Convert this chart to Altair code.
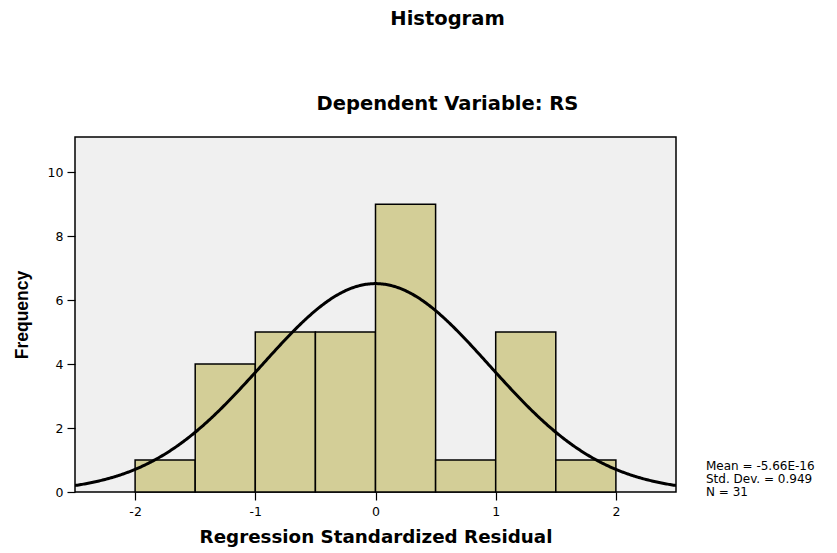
import altair as alt
import pandas as pd

# Histogram bins (bin start, bin end, frequency)
bin_start = [-2.0, -1.5, -1.0, -0.5, 0.0, 0.5, 1.0, 1.5]
bin_end = [-1.5, -1.0, -0.5, 0.0, 0.5, 1.0, 1.5, 2.0]
freq = [1, 4, 5, 5, 9, 1, 5, 1]

# Summary statistics shown on the chart
MEAN = -5.66e-16
SD = 0.949
N = 31
BIN_W = 0.5
stats_lines = ["Mean = -5.66E-16", "Std. Dev. = 0.949", "N = 31"]

x_ticks = [-2, -1, 0, 1, 2]
y_ticks = [0, 2, 4, 6, 8, 10]

FONT = "DejaVu Sans"

bars_df = pd.DataFrame({"start": bin_start, "end": bin_end, "freq": freq})

xscale = alt.Scale(domain=[-2.5, 2.5], nice=False, zero=False)
yscale = alt.Scale(domain=[0, 11.1], nice=False)

xaxis = alt.Axis(values=x_ticks, title="Regression Standardized Residual", grid=False,
                 domain=False, tickColor="black", tickSize=8, tickWidth=1.2,
                 labelExpr="'' + datum.value",
                 labelFont=FONT, labelFontSize=12.5, labelColor="black", labelPadding=5,
                 titleFont=FONT, titleFontSize=18.3, titleFontWeight="bold",
                 titleColor="black", titlePadding=11)
yaxis = alt.Axis(values=y_ticks, title="Frequency", grid=False, domain=False,
                 tickColor="black", tickSize=8, tickWidth=1.2,
                 labelExpr="'' + datum.value",
                 labelFont=FONT, labelFontSize=12.5, labelColor="black", labelPadding=4,
                 titleFont="Liberation Sans", titleFontSize=17.5, titleFontWeight="bold",
                 titleColor="black", titlePadding=16)

bars = alt.Chart(bars_df).mark_rect(
    fill="#d3ce97", stroke="black", strokeWidth=1.5
).encode(
    x=alt.X("start:Q", scale=xscale, axis=xaxis),
    x2="end:Q",
    y=alt.Y("freq:Q", scale=yscale, axis=yaxis),
    y2=alt.datum(0),
)

curve = alt.Chart(alt.sequence(-2.5, 2.5001, 0.01, as_="x")).transform_calculate(
    y=f"{N}*{BIN_W}/({SD}*sqrt(2*PI))*exp(-0.5*pow((datum.x-({MEAN}))/{SD},2))"
).mark_line(color="black", strokeWidth=3, clip=True).encode(
    x=alt.X("x:Q", scale=xscale),
    y=alt.Y("y:Q", scale=yscale),
)

stats_df = pd.DataFrame({"t": ["\n".join(stats_lines)]})
stats = alt.Chart(stats_df).mark_text(
    align="left", baseline="top", font=FONT, fontSize=12, color="black",
    lineBreak="\n", lineHeight=12.8
).encode(
    text="t:N",
    x=alt.value(631),
    y=alt.value(324),
)

chart = alt.layer(bars, curve, stats).properties(
    width=601,
    height=355,
    title=alt.TitleParams(
        text="Histogram",
        subtitle="Dependent Variable: RS",
        font=FONT, fontSize=19.5, fontWeight="bold", color="black",
        subtitleFont=FONT, subtitleFontSize=19.5, subtitleFontWeight="bold",
        subtitleColor="black", subtitlePadding=65, offset=23, dx=72,
        anchor="middle",
    ),
    autosize=alt.AutoSizeParams(type="none"),
    padding={"left": 67, "top": 129, "right": 153, "bottom": 58},
).configure(
    background="white"
).configure_view(
    fill="#f0f0f0", stroke="black", strokeWidth=1.5
)

chart.save("out.html", embed_options={"renderer": "svg", "actions": False})
